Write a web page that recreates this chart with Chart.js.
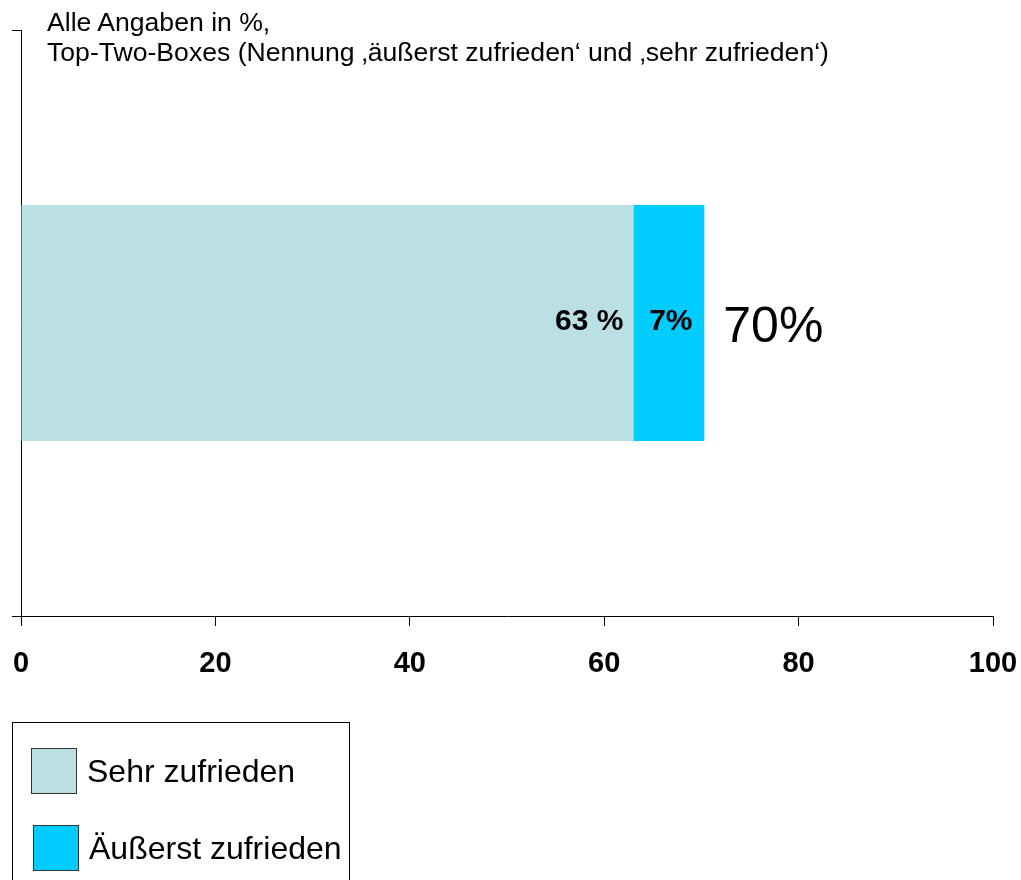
<!DOCTYPE html>
<html>
<head>
<meta charset="utf-8">
<script src="https://cdn.jsdelivr.net/npm/chart.js@4"></script>
<style>
    body { margin: 0; background: #fff; font-family: "Liberation Sans", Arial, sans-serif; }
    #wrap { position: relative; width: 1021px; height: 880px; overflow: hidden; }
    #salesChart { position: absolute; left: 0; top: 0; }
    #note { position: absolute; left: 47px; top: 7px; font-size: 26.6px; line-height: 30px; color: #000; white-space: nowrap; }
    #legend { position: absolute; left: 12px; top: 722px; width: 336px; height: 200px; border: 1px solid #000; }
    .item { position: absolute; display: flex; align-items: center; font-size: 32px; }
    .swatch { width: 44px; height: 44px; border: 1.5px solid #333; margin-right: 10px; }
</style>
</head>
<body>
<div id="wrap">
    <canvas id="salesChart" width="1021" height="880"></canvas>
    <div id="note">Alle Angaben in %,<br>Top-Two-Boxes (Nennung ‚äußerst zufrieden‘ und ‚sehr zufrieden‘)</div>
    <div id="legend"></div>
</div>
<script>
const categories = ["Zufriedenheit"];
const seriesNames = ["Sehr zufrieden", "Äußerst zufrieden"];
const sehrValues = [63];
const aeusserstValues = [7.3];
const segmentLabels = ["63 %", "7%"];
const totalLabels = ["70%"];
const xTicks = [0, 20, 40, 60, 80, 100];

const colors = ["#BBE0E3", "#00CCFF"];

// labels inside the bar and total right of it
const labelPlugin = {
    id: "barLabels",
    afterDatasetsDraw(chart) {
        const c = chart.ctx;
        c.save();
        c.fillStyle = "#000";
        c.textBaseline = "middle";
        chart.data.datasets.forEach((ds, i) => {
            const meta = chart.getDatasetMeta(i);
            meta.data.forEach((bar, j) => {
                c.font = "bold 30px 'Liberation Sans', Arial, sans-serif";
                if (i === 0) {
                    c.textAlign = "right";
                    c.fillText(segmentLabels[i], bar.x - 10, bar.y - 1);
                } else {
                    c.textAlign = "center";
                    c.fillText(segmentLabels[i], (bar.x + bar.base) / 2 + 2, bar.y - 1);
                }
            });
        });
        const last = chart.getDatasetMeta(chart.data.datasets.length - 1).data;
        last.forEach((bar, j) => {
            c.font = "50px 'Liberation Sans', Arial, sans-serif";
            c.textAlign = "left";
            c.fillText(totalLabels[j], bar.x + 19, bar.y + 5);
        });
        c.restore();
    }
};

const ctx = document.getElementById("salesChart").getContext("2d");

const chart = new Chart(ctx, {
    type: "bar",
    data: {
        labels: categories,
        datasets: [
            { label: seriesNames[0], data: sehrValues, backgroundColor: colors[0] },
            { label: seriesNames[1], data: aeusserstValues, backgroundColor: colors[1] },
        ],
    },
    options: {
        indexAxis: "y",
        responsive: false,
        animation: false,
        devicePixelRatio: 1,
        layout: { padding: { left: 0, top: 30, right: 28, bottom: 204 } },
        plugins: { legend: { display: false }, tooltip: { enabled: false } },
        datasets: { bar: { barPercentage: 0.403, categoryPercentage: 1 } },
        scales: {
            x: {
                stacked: true,
                min: 0,
                max: 100,
                afterBuildTicks: s => { s.ticks = xTicks.map(v => ({ value: v })); },
                afterFit: s => {
                    s.height = 60;
                    s.paddingLeft = 0;
                    s.paddingRight = 0;
                },
                border: { color: "#000", width: 1 },
                grid: { drawOnChartArea: false, color: "#000", tickLength: 10 },
                ticks: {
                    color: "#000",
                    padding: 21,
                    font: { family: "'Liberation Sans', Arial, sans-serif", size: 29, weight: "bold" },
                },
            },
            y: {
                stacked: true,
                afterFit: s => { s.width = 21; },
                border: { color: "#000", width: 1 },
                grid: { drawOnChartArea: false, color: "#000", tickLength: 9, offset: true },
                ticks: { display: false },
            },
        },
    },
    plugins: [labelPlugin],
});

// legend built from the datasets
const legendEl = document.getElementById("legend");
chart.data.datasets.forEach((ds, i) => {
    const item = document.createElement("div");
    item.className = "item";
    item.style.left = (18 + i * 2) + "px";
    item.style.top = (25 + i * 77) + "px";
    item.innerHTML = '<div class="swatch" style="background:' + ds.backgroundColor + '"></div><span>' + ds.label + '</span>';
    legendEl.appendChild(item);
});
</script>
</body>
</html>
